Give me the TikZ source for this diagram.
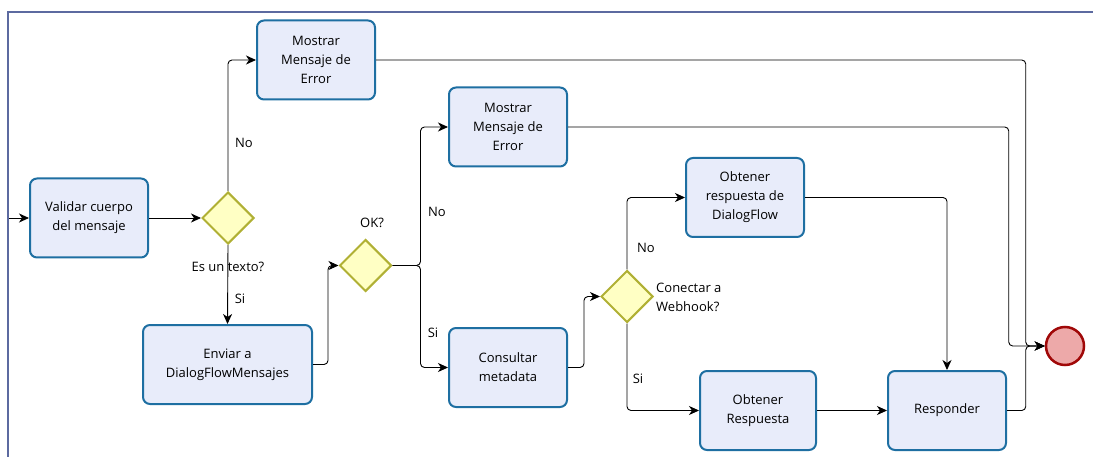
\documentclass[tikz,border=0pt]{standalone}
\usepackage{fontspec}
\setmainfont{Open Sans}
\usetikzlibrary{shapes.geometric,arrows.meta,calc}
\definecolor{taskfill}{HTML}{E8ECFA}
\definecolor{taskline}{HTML}{1E6FA2}
\definecolor{gwfill}{HTML}{FFFFC4}
\definecolor{gwline}{HTML}{B0B034}
\definecolor{endfill}{HTML}{EDA9A9}
\definecolor{endline}{HTML}{A00808}
\definecolor{poolline}{HTML}{5C6AA0}
\tikzset{
  task/.style={draw=taskline, fill=taskfill, line width=2pt, rounded corners=7pt,
    minimum width=118pt, minimum height=79pt, align=center, inner sep=2pt,
    font=\fontsize{13pt}{19pt}\selectfont},
  gateway/.style={draw=gwline, fill=gwfill, line width=2pt, diamond,
    minimum width=52pt, minimum height=52pt, inner sep=0pt},
  endevent/.style={draw=endline, fill=endfill, line width=2.5pt, circle,
    minimum size=38pt, inner sep=0pt},
  flow/.style={draw=black, line width=0.9pt, rounded corners=4pt,
    -{Stealth[length=10pt,width=9pt,inset=3pt]}},
  lbl/.style={font=\fontsize{13pt}{19pt}\selectfont, inner sep=0pt, align=left},
}
\begin{document}
\begin{tikzpicture}[x=1pt,y=-1pt]
\useasboundingbox (0,0) rectangle (1093,457);
% pool border
\draw[poolline, line width=1.8pt] (8,457) -- (8,12) -- (1093,12);

% tasks
\node[task] (val)  at (89,218)  {Validar cuerpo\\del mensaje};
\node[task] (m1)   at (316,60)  {Mostrar\\Mensaje de\\Error};
\node[task, minimum width=169pt] (env) at (227.5,364.5) {Enviar a\\DialogFlowMensajes};
\node[task] (m2)   at (508,127) {Mostrar\\Mensaje de\\Error};
\node[task] (cons) at (508,367.5) {Consultar\\metadata};
\node[task] (odf)  at (745,197.5) {Obtener\\respuesta de\\DialogFlow};
\node[task, minimum width=116pt] (ores) at (758,410.5) {Obtener\\Respuesta};
\node[task] (resp) at (947,410.5) {Responder};

% gateways
\node[gateway] (d1) at (228,218) {};
\node[gateway] (d2) at (365.5,265.5) {};
\node[gateway] (d3) at (627,296.5) {};

% end event
\node[endevent] (endc) at (1065,346) {};

% gateway labels
\node[lbl, anchor=north] (t1) at (228,262) {Es un texto?};
\node[lbl, anchor=south] (t2) at (372,228) {OK?};
\node[lbl, anchor=west] (t3) at (656,297) {Conectar a\\Webhook?};

% start of the flow at the pool edge
\coordinate (start) at (9,218);

% sequence flows
\draw[flow] (start) -- (val.west);
\draw[flow] (val.east) -- (d1.west);
\draw[flow] (d1.north) |- (m1.west);
\draw[flow] (d1.south) -- (env.north);
\draw[flow] (env.east) -- ++(15,0) |- (d2.west);
\draw[flow] (d2.east) -- ++(28,0) |- (m2.west);
\draw[flow] (d2.east) -- ++(28,0) |- (cons.west);
\draw[flow] (cons.east) -- ++(16,0) |- (d3.west);
\draw[flow] (d3.north) |- (odf.west);
\draw[flow] (d3.south) |- (ores.west);
\draw[flow] (odf.east) -| (resp.north);
\draw[flow] (ores.east) -- (resp.west);
\draw[flow] (m1.east) -| ($(endc.west)+(-19,0)$) -- (endc.west);
\draw[flow] (m2.east) -| ($(endc.west)+(-36,0)$) -- (endc.west);
\draw[flow] (resp.east) -| ($(endc.west)+(-19,0)$) -- (endc.west);

% flow labels
\node[lbl] (no1) at (244,143) {No};
\node[lbl] (si1) at (240,299) {Si};
\node[lbl] (no2) at (437,212) {No};
\node[lbl] (si2) at (433,333) {Si};
\node[lbl] (no3) at (646,248) {No};
\node[lbl] (si3) at (638,379) {Si};
\end{tikzpicture}
\end{document}
